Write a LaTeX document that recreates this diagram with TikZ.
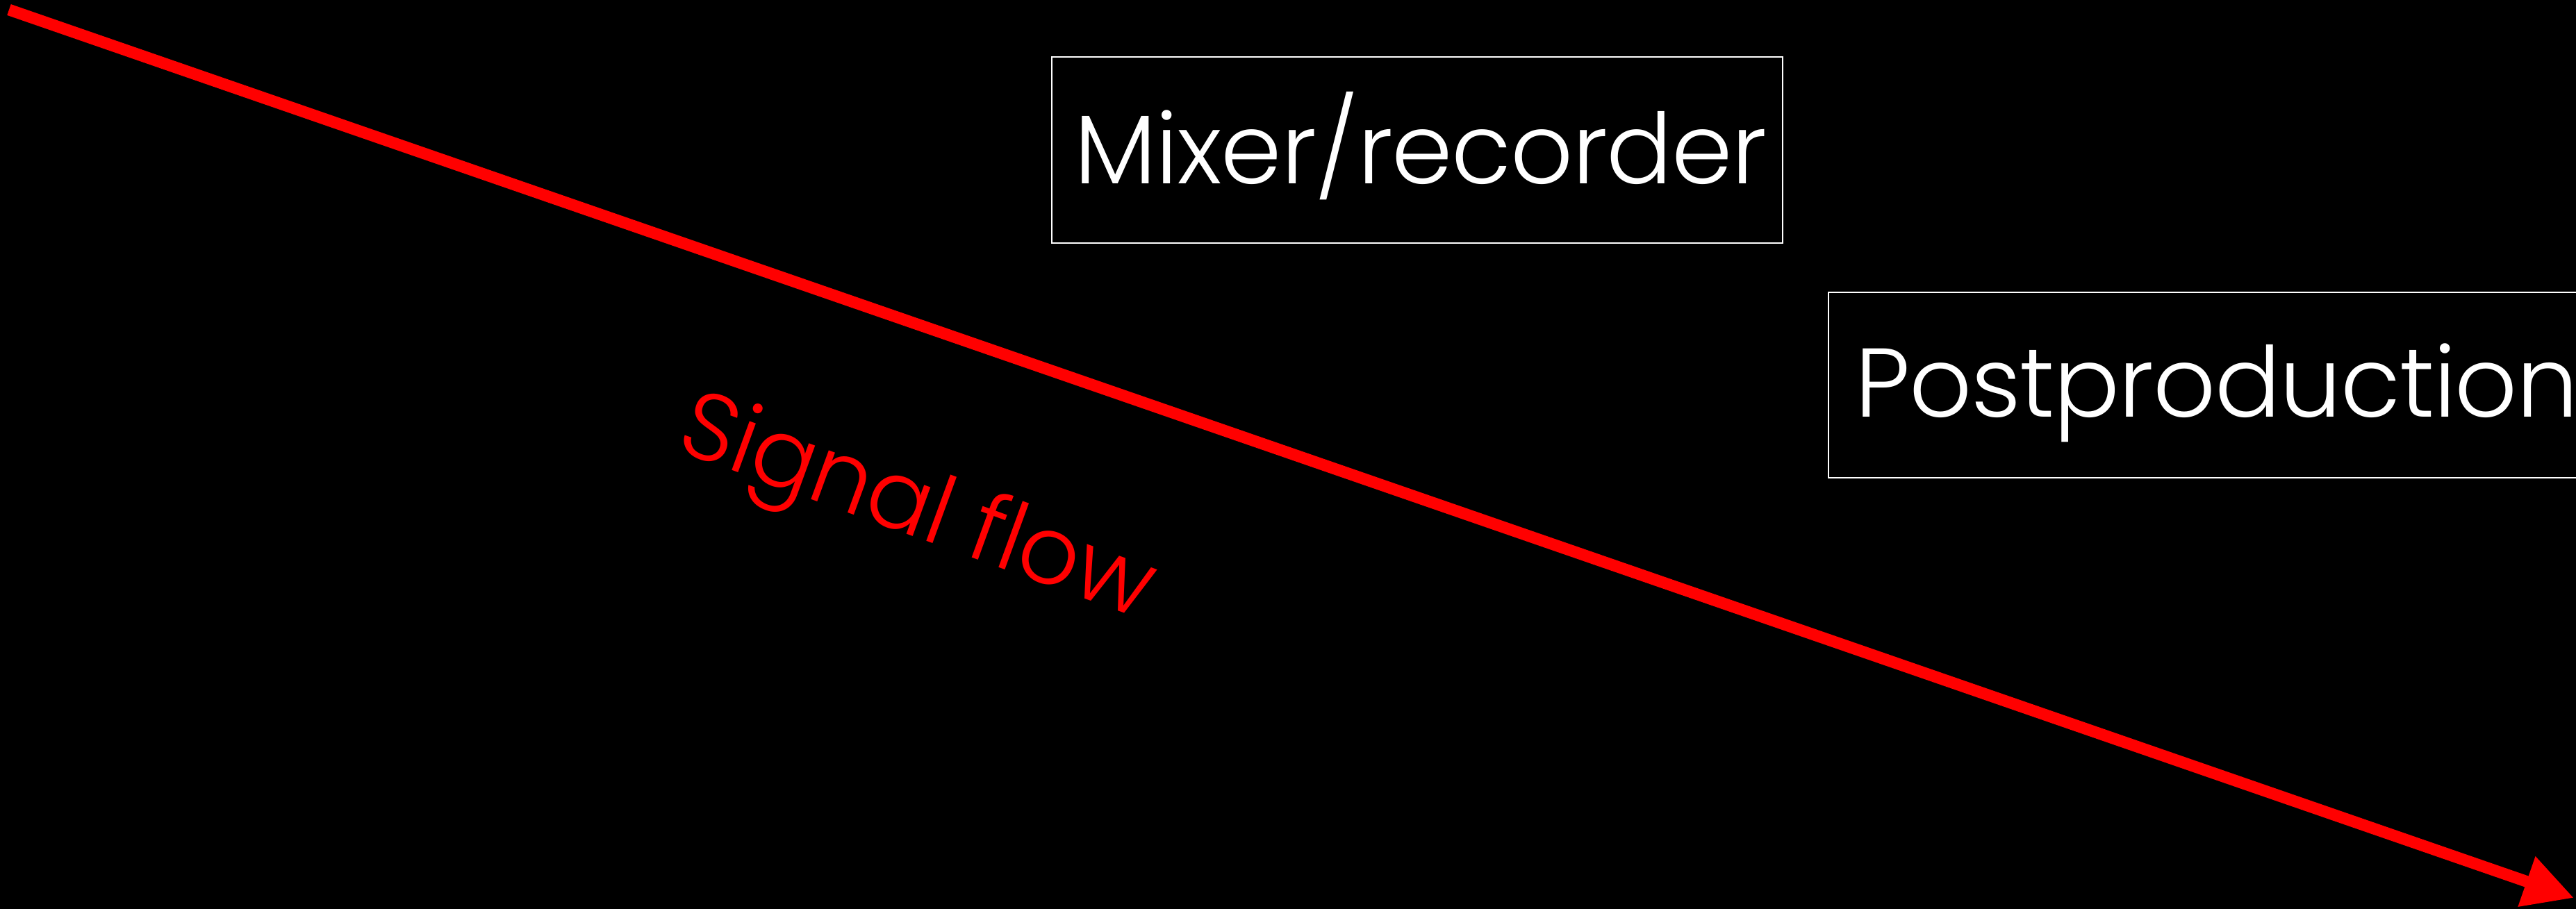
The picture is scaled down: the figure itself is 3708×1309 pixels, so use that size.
\documentclass[tikz,border=0pt]{standalone}
\usepackage{fontspec}
\setmainfont{Poppins Light}[LetterSpace=-1.0]
\usetikzlibrary{arrows.meta}
\definecolor{sigred}{RGB}{255,0,0}
\begin{document}
\begin{tikzpicture}[x=0.01cm,y=-0.01cm,
  boxframe/.style={draw=white, line width=0.5pt, inner sep=0pt},
  lbl/.style={text=white, font=\fontsize{40}{48}\selectfont, inner sep=0pt},
  flowlbl/.style={text=sigred, font=\fontsize{39}{47}\selectfont, inner sep=0pt, rotate=-20},
  flow/.style={draw=sigred, line width=4.75pt, -{Triangle[length=0.72cm,width=0.72cm]}}]
\fill[black] (0,0) rectangle (3708,1309);
\useasboundingbox (0,0) rectangle (3708,1309);
\clip (0,0) rectangle (3708,1309);
\node[boxframe, minimum width=10.52cm, minimum height=2.68cm] (mixer) at (2040,216) {};
\node[lbl, anchor=base] (mixertext) at (2045,264) {Mixer/recorder};
\node[boxframe, minimum width=10.88cm, minimum height=2.67cm] (post) at (3176,554.5) {};
\node[lbl, anchor=base] (posttext) at (3191,600) {Postproduction};
\coordinate (start) at (13,14);
\coordinate (tip) at (3705,1293);
\draw[flow] (start) -- (tip);
\node[flowlbl] (flowtext) at (1318,738) {Signal flow};
\end{tikzpicture}
\end{document}
